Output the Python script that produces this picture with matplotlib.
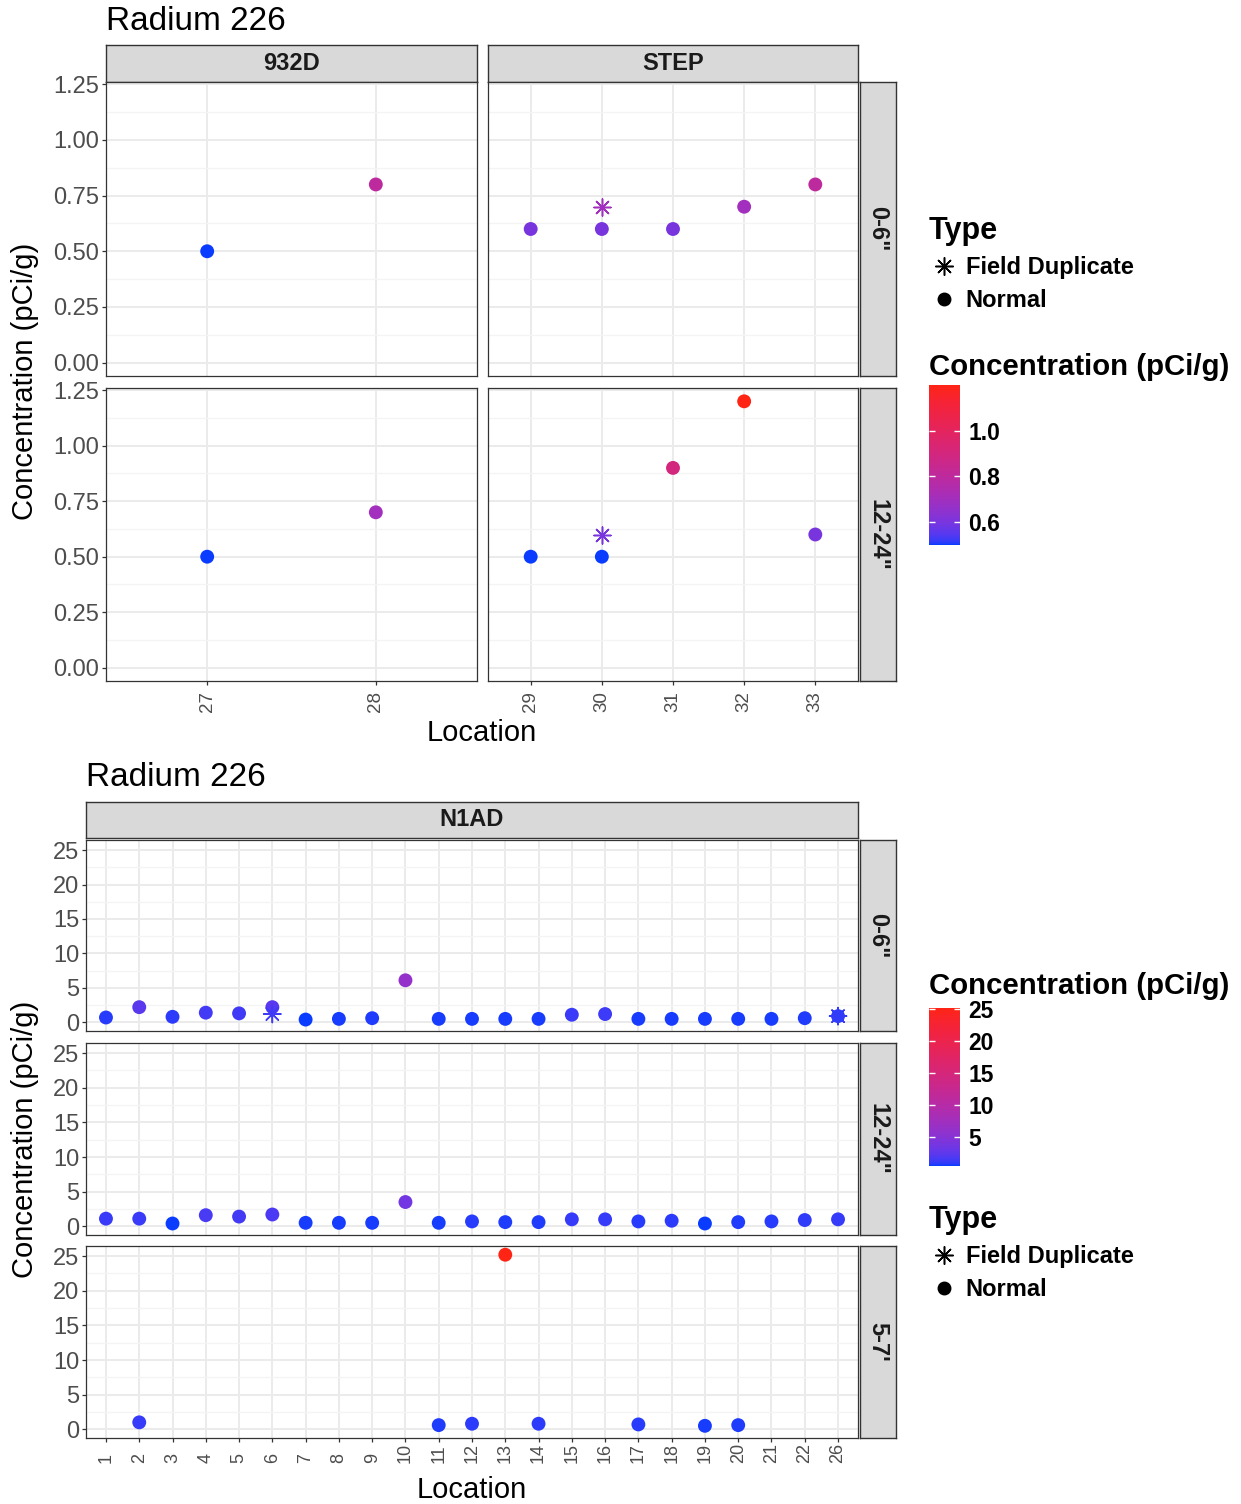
import numpy as np
import matplotlib
matplotlib.use("Agg")
import matplotlib.pyplot as plt
from matplotlib.colors import ListedColormap, Normalize
from matplotlib.cm import ScalarMappable
from matplotlib.lines import Line2D
from matplotlib.ticker import FormatStrFormatter

plt.rcParams["font.family"] = ["Liberation Sans", "DejaVu Sans"]

# ---- data: Radium 226, sites 932D / STEP ----
loc_932d = ["27", "28"]
ra_932d_0_6 = [0.5, 0.8]
ra_932d_12_24 = [0.5, 0.7]

loc_step = ["29", "30", "31", "32", "33"]
ra_step_0_6 = [0.6, 0.6, 0.6, 0.7, 0.8]
ra_step_12_24 = [0.5, 0.5, 0.9, 1.2, 0.6]
dup_loc_step = ["30"]
dup_step_0_6 = [0.7]
dup_step_12_24 = [0.6]

# ---- data: Radium 226, site N1AD ----
loc_n1ad = [str(i) for i in range(1, 23)] + ["26"]
ra_n1ad_0_6 = [0.7, 2.2, 0.8, 1.4, 1.3, 2.2, 0.4, 0.5, 0.6, 6.1, 0.5, 0.5,
               0.5, 0.5, 1.1, 1.2, 0.5, 0.5, 0.5, 0.5, 0.5, 0.6, 0.9]
ra_n1ad_12_24 = [1.1, 1.1, 0.4, 1.6, 1.4, 1.7, 0.5, 0.5, 0.5, 3.5, 0.5, 0.7,
                 0.6, 0.6, 1.0, 1.0, 0.7, 0.8, 0.4, 0.6, 0.7, 0.9, 1.0]
loc_n1ad_5_7 = ["2", "11", "12", "13", "14", "17", "19", "20"]
ra_n1ad_5_7 = [1.0, 0.6, 0.8, 25.2, 0.8, 0.7, 0.5, 0.6]
dup_loc_n1ad = ["6", "26"]
dup_n1ad_0_6 = [1.2, 0.9]

depths_top = ['0-6"', '12-24"']
depths_bot = ['0-6"', '12-24"', "5-7'"]

W, H = 1241, 1504
GRAY_TXT = "#4D4D4D"
DARK = "#333333"
STAR = (8, 2, 0)


def box(x0, y0, x1, y1):
    """pixel box (from top-left) -> figure fraction rect"""
    return [x0 / W, 1 - y1 / H, (x1 - x0) / W, (y1 - y0) / H]


# ggplot-style blue->red gradient, interpolated in CIE Lab
_M = np.array([[0.4124, 0.3576, 0.1805],
               [0.2126, 0.7152, 0.0722],
               [0.0193, 0.1192, 0.9505]])
_WHITE = np.array([0.95047, 1.0, 1.08883])


def hex_to_lab(h):
    rgb = np.array([int(h[i:i + 2], 16) for i in (1, 3, 5)]) / 255
    lin = np.where(rgb <= 0.04045, rgb / 12.92, ((rgb + 0.055) / 1.055) ** 2.4)
    xyz = _M @ lin / _WHITE
    f = np.where(xyz > 0.008856, np.cbrt(xyz), 7.787 * xyz + 16 / 116)
    return np.array([116 * f[1] - 16, 500 * (f[0] - f[1]), 200 * (f[1] - f[2])])


def lab_to_rgb(lab):
    fy = (lab[0] + 16) / 116
    f = np.array([fy + lab[1] / 500, fy, fy - lab[2] / 200])
    xyz = np.where(f > 0.2069, f ** 3, (f - 16 / 116) / 7.787) * _WHITE
    lin = np.clip(np.linalg.solve(_M, xyz), 0, 1)
    rgb = np.where(lin <= 0.0031308, 12.92 * lin, 1.055 * lin ** (1 / 2.4) - 0.055)
    return np.clip(rgb, 0, 1)


lo, hi = hex_to_lab("#0A3CFF"), hex_to_lab("#FF2414")
cmap = ListedColormap([lab_to_rgb(lo + t * (hi - lo)) for t in np.linspace(0, 1, 256)])


def strip(rect, label, vertical=False):
    ax = fig.add_axes(rect)
    ax.set_facecolor("#D9D9D9")
    ax.set_xticks([])
    ax.set_yticks([])
    for s in ax.spines.values():
        s.set_color(DARK)
        s.set_linewidth(1.0)
    ax.text(0.5, 0.5, label, transform=ax.transAxes, ha="center", va="center",
            fontsize=17, fontweight="bold", color="#1A1A1A",
            rotation=-90 if vertical else 0)


def panel(rect, cats, locs, vals, dlocs, dvals, norm, ylim, major, minor,
          left, bottom, fmt, xpad, xsize):
    ax = fig.add_axes(rect)
    pos = {c: i for i, c in enumerate(cats)}
    ax.set_axisbelow(True)
    ax.scatter([pos[c] for c in locs], vals, c=vals, cmap=cmap, norm=norm,
               s=100, edgecolors="none", zorder=3)
    if dlocs:
        ax.scatter([pos[c] for c in dlocs], dvals, c=dvals, cmap=cmap, norm=norm,
                   marker=STAR, s=150, linewidths=1.1, zorder=4)
    ax.set_xlim(-0.6, len(cats) - 0.4)
    ax.set_ylim(*ylim)
    ax.set_xticks(range(len(cats)))
    ax.set_xticklabels(cats)
    ax.set_yticks(major)
    ax.set_yticks(minor, minor=True)
    ax.yaxis.set_major_formatter(FormatStrFormatter(fmt))
    ax.grid(which="major", color="#EBEBEB", linewidth=1.4)
    ax.grid(which="minor", axis="y", color="#F4F4F4", linewidth=0.9)
    for s in ax.spines.values():
        s.set_color(DARK)
        s.set_linewidth(0.9)
    ax.tick_params(which="minor", length=0)
    ax.tick_params(axis="y", length=3, width=0.9, color=DARK, labelsize=17,
                   labelcolor=GRAY_TXT, left=left, labelleft=left, pad=2)
    ax.tick_params(axis="x", length=3, width=0.9, color=DARK, labelsize=xsize,
                   labelcolor=GRAY_TXT, bottom=bottom, labelbottom=bottom,
                   labelrotation=90, pad=xpad)
    for t in ax.get_xticklabels():
        t.set_va("bottom")
    return ax


def legend_type(y_top):
    handles = [Line2D([], [], marker=STAR, color="black", ls="none", markersize=13, mew=1.1),
               Line2D([], [], marker="o", color="black", ls="none", markersize=9)]
    leg = fig.legend(handles, ["Field Duplicate", "Normal"], title="Type",
                     loc="upper left", bbox_to_anchor=(929 / W, 1 - y_top / H),
                     frameon=False, prop={"size": 17, "weight": "bold"},
                     title_fontproperties={"size": 22, "weight": "bold"},
                     handlelength=1.25, handletextpad=0.3, labelspacing=0.42,
                     borderpad=0, borderaxespad=0)
    leg._legend_box.align = "left"


def colorbar(rect, title_y, norm, ticks, labels):
    fig.text(929 / W, 1 - title_y / H, "Concentration (pCi/g)", fontsize=21.2,
             fontweight="bold", va="center", ha="left")
    cax = fig.add_axes(rect)
    cb = fig.colorbar(ScalarMappable(norm=norm, cmap=cmap), cax=cax, ticks=ticks)
    cb.outline.set_visible(False)
    cb.minorticks_off()
    cax.yaxis.set_ticks_position("both")
    cax.tick_params(axis="y", direction="in", length=4.5, width=1, color="white",
                    labelleft=False, labelright=True, labelsize=16.5, pad=6)
    cax.set_yticklabels(labels, fontweight="bold")


fig = plt.figure(figsize=(W / 100, H / 100), dpi=100)

# =================== top chart: 932D / STEP ===================
top_vals = ra_932d_0_6 + ra_932d_12_24 + ra_step_0_6 + ra_step_12_24 + dup_step_0_6 + dup_step_12_24
top_norm = Normalize(min(top_vals), max(top_vals))
ymax = max(top_vals)
top_ylim = (-0.05 * ymax, 1.05 * ymax)
top_major = np.arange(0, 1.26, 0.25)
top_minor = np.arange(0.125, 1.25, 0.25)

fig.text(106 / W, 1 - 21 / H, "Radium 226", fontsize=24, va="center", ha="left")
strip(box(106, 45, 477, 82), "932D")
strip(box(488, 45, 858, 82), "STEP")
rows_top = [(82, 376), (388, 681)]
series_932d = [ra_932d_0_6, ra_932d_12_24]
series_step = [ra_step_0_6, ra_step_12_24]
series_dup = [dup_step_0_6, dup_step_12_24]
for r, (y0, y1) in enumerate(rows_top):
    last = r == len(rows_top) - 1
    panel(box(106, y0, 477, y1), loc_932d, loc_932d, series_932d[r], [], [],
          top_norm, top_ylim, top_major, top_minor, True, last, "%.2f", 19, 13.5)
    panel(box(488, y0, 858, y1), loc_step, loc_step, series_step[r], dup_loc_step,
          series_dup[r], top_norm, top_ylim, top_major, top_minor, False, last, "%.2f", 19, 13.5)
    strip(box(860, y0, 896, y1), depths_top[r], vertical=True)

fig.text(25 / W, 1 - 381 / H, "Concentration (pCi/g)", fontsize=21, rotation=90,
         ha="center", va="center")
fig.text(482 / W, 1 - 733 / H, "Location", fontsize=21, ha="center", va="center")

legend_type(216)
colorbar(box(929, 385, 960, 545), 367, top_norm, [0.6, 0.8, 1.0], ["0.6", "0.8", "1.0"])

# =================== bottom chart: N1AD ===================
bot_vals = ra_n1ad_0_6 + ra_n1ad_12_24 + ra_n1ad_5_7 + dup_n1ad_0_6
bot_norm = Normalize(min(bot_vals), max(bot_vals))
ymax = max(bot_vals)
bot_ylim = (-0.05 * ymax, 1.05 * ymax)
bot_major = np.arange(0, 26, 5)
bot_minor = np.arange(2.5, 25, 5)

fig.text(86 / W, 1 - 778 / H, "Radium 226", fontsize=24, va="center", ha="left")
strip(box(86, 802, 858, 838), "N1AD")
rows_bot = [(840, 1031), (1043, 1235), (1246, 1438)]
series_bot = [(loc_n1ad, ra_n1ad_0_6, dup_loc_n1ad, dup_n1ad_0_6),
              (loc_n1ad, ra_n1ad_12_24, [], []),
              (loc_n1ad_5_7, ra_n1ad_5_7, [], [])]
for r, (y0, y1) in enumerate(rows_bot):
    locs, vals, dlocs, dvals = series_bot[r]
    panel(box(86, y0, 858, y1), loc_n1ad, locs, vals, dlocs, dvals, bot_norm,
          bot_ylim, bot_major, bot_minor, True, r == len(rows_bot) - 1, "%d", 15, 13)
    strip(box(860, y0, 896, y1), depths_bot[r], vertical=True)

fig.text(25 / W, 1 - 1139 / H, "Concentration (pCi/g)", fontsize=21, rotation=90,
         ha="center", va="center")
fig.text(472 / W, 1 - 1490 / H, "Location", fontsize=21, ha="center", va="center")

colorbar(box(929, 1008, 960, 1166), 986, bot_norm, [5, 10, 15, 20, 25],
         ["5", "10", "15", "20", "25"])
legend_type(1205)

fig.savefig("out.png", dpi=100, facecolor="white")
